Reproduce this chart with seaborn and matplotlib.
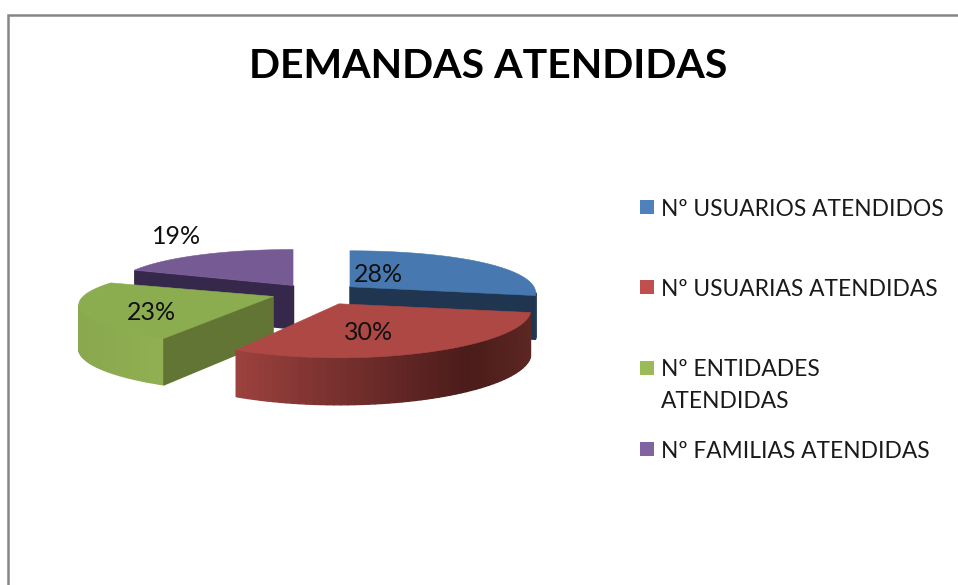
"""
Demandas atendidas - pizza 3D destacada
"""

import numpy as np
import matplotlib
matplotlib.use("Agg")
import matplotlib.pyplot as plt
from matplotlib.collections import PolyCollection
from matplotlib.colors import to_rgb
from matplotlib.patches import Polygon
import seaborn as sns

titulo = "DEMANDAS ATENDIDAS"
valores = [28, 30, 23, 19]
categorias = ["Nº USUARIOS ATENDIDOS", "Nº USUARIAS ATENDIDAS", "Nº ENTIDADES\nATENDIDAS", "Nº FAMILIAS ATENDIDAS"]

sns.set_theme(style="white")
plt.rcParams["font.family"] = ["Lato", "DejaVu Sans"]

paleta = sns.color_palette(["#4F81BD", "#C0504D", "#9BBB59", "#8064A2"])
cor_topo = ["#4878B0", "#AE4845", "#8CAC50", "#765A94"]
cor_corte = ["#1F3550", "#4A1C1A", "#627535", "#35284A"]
destaque = [0.232, 0.284, 0.24, 0.215]

# projecao da pizza para pixels da imagem (perspectiva muda por fatia)
CX, CY = 316, 293
rx_fatia = [184, 190, 190, 180]
ry_fatia = [45, 45, 40, 45]
fuga_fatia = [0.14, 0.14, 0.22, 0.14]


def projeta(w, i):
    # cada fatia projetada a partir do proprio vertice
    ang = np.radians(np.linspace(w.theta1, w.theta2, 60))
    u = np.r_[0, np.cos(ang)] * w.r
    v = np.r_[0, np.sin(ang)] * w.r
    ax0 = CX + 190 * w.center[0]
    ay0 = CY - 42 * w.center[1]
    px = ax0 + rx_fatia[i] * u * (1 - fuga_fatia[i] * v)
    py = ay0 - v * (ry_fatia[i] - 9 * v)
    return px, py, 43 - 4 * v


def mistura(a, b, t):
    a, b = np.array(to_rgb(a)), np.array(to_rgb(b))
    return tuple(a + (b - a) * t)


def cor_lateral(i, px):
    # degrade da parede externa
    if i == 1:
        if px > 470:
            return mistura("#4A1C1A", "#5C2622", np.clip((px - 470) / 60, 0, 1))
        return mistura("#9C413E", "#4A1C1A", np.clip((px - 236) / (470 - 236), 0, 1))
    if i == 2:
        return mistura("#8AA84E", "#90B052", np.clip((px - 83) / (165 - 83), 0, 1))
    if i == 0:
        return "#21395A"
    return "#35284A"


fig = plt.figure(figsize=(9.58, 5.85), dpi=100)
ax = fig.add_axes([0, 0, 1, 1])

fatias, _ = ax.pie(valores, explode=destaque, startangle=90, counterclock=False)

ax.set_aspect("auto")
ax.set_xlim(0, 958)
ax.set_ylim(585, 0)
ax.axis("off")

# ordem de pintura: do fundo para a frente
for i in [3, 0, 2, 1]:
    w = fatias[i]
    w.set_visible(False)
    px, py, dp = projeta(w, i)

    quads, cores = [], []
    n = len(px)
    for k in range(n):
        j = (k + 1) % n
        # so as paredes viradas para a frente
        if px[j] - px[k] <= 0:
            continue
        quads.append([(px[k], py[k]), (px[j], py[j]), (px[j], py[j] + dp[j]), (px[k], py[k] + dp[k])])
        if k == 0 or j == 0:
            cores.append(cor_corte[i])
        else:
            cores.append(cor_lateral(i, (px[k] + px[j]) / 2))
    ax.add_collection(PolyCollection(quads, facecolors=cores, edgecolors=cores, linewidths=1.0))
    ax.add_patch(Polygon(np.c_[px, py], closed=True, facecolor=cor_topo[i], edgecolor=cor_topo[i], linewidth=0.4))

# rotulos de porcentagem
pos_rotulos = [(378, 274), (369, 333), (151, 313), (177, 237)]
for v, (x, y) in zip(valores, pos_rotulos):
    ax.text(x, y, f"{v}%", ha="center", va="center", fontsize=18, color="#111111")

ax.text(488, 66, titulo, ha="center", va="center", fontsize=29.5, fontweight="bold", color="black")

# legenda
pos_legenda = [207, 287, 368, 449]
for cor, nome, y in zip(paleta, categorias, pos_legenda):
    ax.scatter([647], [y], marker="s", s=100, color=cor, linewidths=0)
    for n_lin, linha in enumerate(nome.split("\n")):
        ax.text(661, y + 2 + n_lin * 32, linha, ha="left", va="center", fontsize=16.4, color="#1A1A1A")

# moldura
ax.plot([8.5, 8.5, 958], [585, 14.5, 14.5], color="#868686", linewidth=1.8, solid_joinstyle="miter")

fig.savefig("out.png", dpi=100)
